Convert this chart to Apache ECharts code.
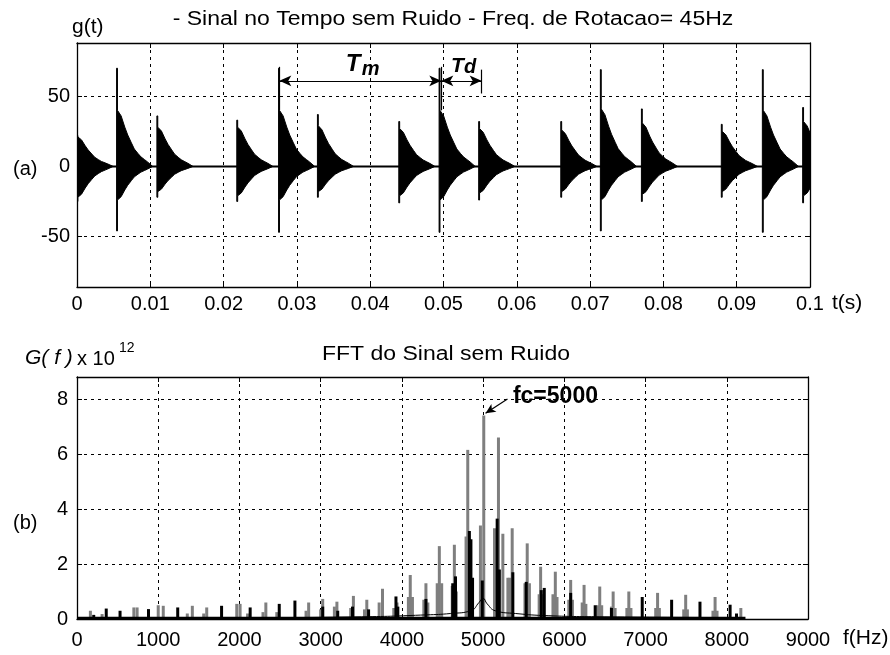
<!DOCTYPE html>
<html>
<head>
<meta charset="utf-8">
<script src="https://cdn.jsdelivr.net/npm/echarts@6/dist/echarts.min.js"></script>
<style>
html,body{margin:0;padding:0;background:#fff;}
#c{width:890px;height:655px;}
</style>
</head>
<body>
<div id="c"></div>
<script>
// ---------- DATA ----------
// Panel (a): time signal bursts
const timeTicks = [0, 0.01, 0.02, 0.03, 0.04, 0.05, 0.06, 0.07, 0.08, 0.09, 0.1];
const ampTicks = [-50, 0, 50];
const burstTime     = [0.0000, 0.0054, 0.0109, 0.0218, 0.0275, 0.0328, 0.0439, 0.0494, 0.0548, 0.0660, 0.0714, 0.0770, 0.0879, 0.0935, 0.0990];
const burstPeakUp   = [22, 70, 36, 33, 70, 37, 32, 70, 32, 32, 69, 41, 30, 69, 42];
const burstPeakDown = [-25, -46, -22, -25, -47, -22, -26, -47, -24, -22, -46, -25, -22, -47, -26];
const burstBodyUp   = [21, 40, 28, 28, 40, 29, 27, 40, 27, 26, 41, 31, 25, 40, 32];
const burstBodyDown = [-22, -24, -18, -21, -24, -18, -21, -24, -19, -18, -24, -20, -18, -24, -21];
// shared decay profile of one burst (offset in s, relative level)
const decayOffset = [0, 0.0005, 0.0010, 0.0014, 0.0019, 0.0023, 0.0028, 0.0032, 0.0037, 0.0041, 0.0048];
const decayLevel  = [1, 0.90, 0.70, 0.56, 0.42, 0.31, 0.23, 0.17, 0.12, 0.08, 0.0];

// Panel (b): spectrum
const freqTicks = [0, 1000, 2000, 3000, 4000, 5000, 6000, 7000, 8000, 9000];
const gTicks = [0, 2, 4, 6, 8];
const grayFreq = [165, 309, 700, 740, 880, 1000, 1062, 1358, 1420, 1560, 1597, 1967, 2008, 2100, 2290, 2325, 2460, 2820, 2852, 3000, 3025, 3169, 3200, 3370, 3403, 3540, 3568, 3720, 3761, 3900, 3940, 4080, 4103, 4130, 4270, 4296, 4320, 4435, 4461, 4490, 4620, 4646, 4670, 4790, 4811, 4835, 4967, 4985, 5008, 5140, 5189, 5243, 5305, 5330, 5358, 5515, 5543, 5570, 5690, 5708, 5730, 5860, 5889, 5910, 6055, 6078, 6100, 6220, 6243, 6265, 6410, 6436, 6460, 6580, 6601, 6625, 6770, 6794, 6820, 7125, 7148, 7170, 7470, 7494, 7515, 7830, 7856, 7880, 8173];
const grayAmp  = [0.30, 0.18, 0.42, 0.42, 0.30, 0.50, 0.48, 0.20, 0.48, 0.20, 0.42, 0.55, 0.55, 0.20, 0.25, 0.60, 0.25, 0.30, 0.60, 0.35, 0.73, 0.45, 0.63, 0.40, 0.84, 0.35, 0.70, 0.60, 1.10, 0.40, 0.60, 0.80, 1.60, 0.80, 0.70, 1.30, 0.60, 1.30, 2.65, 1.30, 1.20, 2.70, 1.00, 3.00, 6.15, 2.20, 3.40, 1.00, 7.40, 3.30, 6.60, 3.10, 1.50, 1.50, 3.30, 1.30, 2.75, 1.30, 0.90, 1.90, 0.90, 0.90, 1.72, 0.80, 0.70, 1.42, 0.70, 0.60, 1.24, 0.55, 0.50, 1.18, 0.50, 0.45, 1.00, 0.40, 0.40, 1.00, 0.40, 0.40, 0.95, 0.40, 0.35, 0.88, 0.35, 0.30, 0.80, 0.30, 0.40];
const blackFreq = [206, 360, 530, 880, 1240, 1780, 2132, 2490, 2683, 3025, 3210, 3392, 3590, 3927, 3950, 4296, 4626, 4660, 4831, 4850, 4870, 4990, 5173, 5200, 5366, 5531, 5716, 5753, 6078, 6380, 6580, 6959, 7321, 7670, 8041, 8120];
const blackAmp  = [0.15, 0.38, 0.30, 0.36, 0.42, 0.48, 0.42, 0.55, 0.67, 0.45, 0.30, 0.45, 0.35, 0.82, 0.45, 0.73, 1.30, 1.55, 3.20, 2.90, 1.50, 1.40, 3.65, 1.80, 1.70, 1.35, 1.05, 1.13, 0.95, 0.50, 0.40, 0.80, 0.70, 0.63, 0.52, 0.20];
const envFreq = [0, 2000, 3500, 4300, 4600, 4850, 4950, 5000, 5050, 5150, 5400, 5800, 6500, 8200];
const envAmp  = [0.05, 0.05, 0.08, 0.15, 0.20, 0.30, 0.60, 0.75, 0.55, 0.30, 0.20, 0.12, 0.08, 0.05];

// ---------- CHART ----------
const FONT = 'Liberation Sans, Arial, sans-serif';
const chart = echarts.init(document.getElementById('c'), null, {renderer: 'canvas'});

const burstData = burstTime.map((t, i) => [t, burstPeakUp[i], burstPeakDown[i], burstBodyUp[i], burstBodyDown[i]]);
const grayData = grayFreq.map((f, i) => [f, grayAmp[i]]);
const blackData = blackFreq.map((f, i) => [f, blackAmp[i]]);
const envData = envFreq.map((f, i) => [f, envAmp[i]]);

const SPIKE_W = 0.00012;
function renderBurst(params, api) {
  const t = api.value(0), pu = api.value(1), pd = api.value(2), bu = api.value(3), bd = api.value(4);
  const pts = [];
  pts.push(api.coord([t, 0]));
  pts.push(api.coord([t, pu]));
  pts.push(api.coord([t + SPIKE_W, pu]));
  for (let k = 0; k < decayOffset.length; k++) pts.push(api.coord([t + SPIKE_W + decayOffset[k], bu * decayLevel[k]]));
  for (let k = decayOffset.length - 1; k >= 0; k--) pts.push(api.coord([t + SPIKE_W + decayOffset[k], bd * decayLevel[k]]));
  pts.push(api.coord([t + SPIKE_W, pd]));
  pts.push(api.coord([t, pd]));
  return {
    type: 'polygon',
    shape: {points: pts},
    style: {fill: '#000', stroke: '#000', lineWidth: 1}
  };
}

const gridLine = {show: true, lineStyle: {color: '#000', type: [3, 4], width: 1}};
const axisLineStyle = {show: true, onZero: false, lineStyle: {color: '#000', width: 1.3}};
const tickIn = {show: true, inside: true, length: 5, lineStyle: {color: '#000', width: 1}};
const lblStyle = {color: '#000', fontSize: 20, fontFamily: FONT};

const option = {
  animation: false,
  backgroundColor: '#fff',
  grid: [
    {left: 77, top: 43, width: 733, height: 244},
    {left: 77, top: 377, width: 731, height: 242}
  ],
  xAxis: [
    {gridIndex: 0, type: 'value', min: timeTicks[0], max: timeTicks[timeTicks.length - 1], interval: 0.01,
     axisLine: axisLineStyle, axisTick: tickIn, splitLine: gridLine,
     axisLabel: Object.assign({margin: 7, formatter: v => String(+v.toFixed(2))}, lblStyle)},
    {gridIndex: 0, type: 'value', position: 'top', min: timeTicks[0], max: timeTicks[timeTicks.length - 1], interval: 0.01,
     axisLine: axisLineStyle, axisTick: tickIn, splitLine: {show: false}, axisLabel: {show: false}},
    {gridIndex: 1, type: 'value', min: freqTicks[0], max: freqTicks[freqTicks.length - 1], interval: 1000,
     axisLine: axisLineStyle, axisTick: tickIn, splitLine: gridLine,
     axisLabel: Object.assign({margin: 11, formatter: v => String(v)}, lblStyle)},
    {gridIndex: 1, type: 'value', position: 'top', min: freqTicks[0], max: freqTicks[freqTicks.length - 1], interval: 1000,
     axisLine: axisLineStyle, axisTick: tickIn, splitLine: {show: false}, axisLabel: {show: false}}
  ],
  yAxis: [
    {gridIndex: 0, type: 'value', min: -86, max: 88,
     axisLine: axisLineStyle, axisTick: Object.assign({customValues: ampTicks}, tickIn), splitLine: gridLine,
     axisLabel: Object.assign({margin: 7, customValues: ampTicks}, lblStyle)},
    {gridIndex: 0, type: 'value', position: 'right', min: -86, max: 88,
     axisLine: axisLineStyle, axisTick: Object.assign({customValues: ampTicks}, tickIn), splitLine: {show: false}, axisLabel: {show: false}},
    {gridIndex: 1, type: 'value', min: gTicks[0], max: 8.8, interval: 2,
     axisLine: axisLineStyle, axisTick: tickIn, splitLine: gridLine,
     axisLabel: Object.assign({margin: 9, showMaxLabel: false}, lblStyle)},
    {gridIndex: 1, type: 'value', position: 'right', min: gTicks[0], max: 8.8, interval: 2,
     axisLine: axisLineStyle, axisTick: tickIn, splitLine: {show: false}, axisLabel: {show: false}}
  ],
  series: [
    {type: 'line', xAxisIndex: 0, yAxisIndex: 0, data: [[0, 0], [0.1, 0]], symbol: 'none',
     lineStyle: {color: '#000', width: 2}, z: 3,
     markLine: {silent: true, animation: false, symbol: ['arrow', 'arrow'], symbolSize: [8, 12],
       label: {show: false}, lineStyle: {color: '#000', type: 'solid', width: 1.2},
       data: [
         [{coord: [0.0276, 61]}, {coord: [0.0497, 61]}],
         [{coord: [0.0497, 61]}, {coord: [0.0552, 61]}],
         [{coord: [0.0552, 69], symbol: 'none'}, {coord: [0.0552, 52], symbol: 'none'}],
         [{coord: [0.0276, 71], symbol: 'none'}, {coord: [0.0276, 40], symbol: 'none'}],
         [{coord: [0.0497, 71], symbol: 'none'}, {coord: [0.0497, 40], symbol: 'none'}]
       ]}},
    {type: 'custom', xAxisIndex: 0, yAxisIndex: 0, data: burstData, renderItem: renderBurst, clip: true, z: 4},
    {type: 'bar', xAxisIndex: 2, yAxisIndex: 2, data: grayData, barWidth: 3, barGap: '-100%',
     itemStyle: {color: '#7f7f7f'}, z: 3},
    {type: 'bar', xAxisIndex: 2, yAxisIndex: 2, data: blackData, barWidth: 3, barGap: '-100%',
     itemStyle: {color: '#000'}, z: 4},
    {type: 'line', xAxisIndex: 2, yAxisIndex: 2, data: envData, symbol: 'none', smooth: true,
     lineStyle: {color: '#000', width: 1}, z: 5},
    {type: 'line', xAxisIndex: 2, yAxisIndex: 2, data: [[0, 0.04], [8230, 0.04]], symbol: 'none',
     lineStyle: {color: '#000', width: 2.5}, z: 5,
     markLine: {silent: true, animation: false, symbol: ['none', 'arrow'], symbolSize: [7, 10],
       label: {show: false}, lineStyle: {color: '#000', type: 'solid', width: 1.2},
       data: [[{coord: [5300, 8.0]}, {coord: [5030, 7.48]}]]}}
  ]
};
chart.setOption(option);

// ---------- texts ----------
function px(gi, v) { return chart.convertToPixel({gridIndex: gi}, v); }
const pTm = px(0, [0.0368, 61]);
const pTd = px(0, [0.0524, 61]);
const pFc = px(1, [5330, 8.0]);
const txt = (text, x, y, extra, sx) => ({type: 'text', x: x, y: y, scaleX: sx || 1, silent: true,
  style: Object.assign({text: text, fill: '#000', font: '20px ' + FONT}, extra || {})});

chart.setOption({
  graphic: [
    txt('- Sinal no Tempo sem Ruido - Freq. de Rotacao= 45Hz', 453, 19, {align: 'center', verticalAlign: 'middle'}, 1.15),
    txt('g(t)', 72, 27, {verticalAlign: 'middle', font: '21px ' + FONT}),
    txt('(a)', 13, 169, {verticalAlign: 'middle'}),
    txt('t(s)', 832, 303, {verticalAlign: 'middle', font: '21px ' + FONT}),
    txt('FFT do Sinal sem Ruido', 446, 354, {align: 'center', verticalAlign: 'middle'}, 1.15),
    txt('G( f )', 25, 358, {verticalAlign: 'middle', font: 'italic 21px ' + FONT}),
    txt('x 10', 77, 359, {verticalAlign: 'middle', font: '20px ' + FONT}),
    txt('12', 119, 348, {verticalAlign: 'middle', font: '14px ' + FONT}),
    txt('(b)', 13, 523, {verticalAlign: 'middle'}),
    txt('f(Hz)', 843, 638, {verticalAlign: 'middle', font: '21px ' + FONT}),
    txt('T', pTm[0] - 1, pTm[1] - 16, {verticalAlign: 'middle', font: 'italic bold 24px ' + FONT}),
    txt('m', pTm[0] + 15, pTm[1] - 11, {verticalAlign: 'middle', font: 'italic bold 20px ' + FONT}),
    txt('T', pTd[0] - 10, pTd[1] - 15, {verticalAlign: 'middle', font: 'italic bold 21px ' + FONT}),
    txt('d', pTd[0] + 3, pTd[1] - 13, {verticalAlign: 'middle', font: 'italic bold 20px ' + FONT}),
    txt('fc=5000', pFc[0] + 3, pFc[1] - 2, {verticalAlign: 'middle', font: 'bold 23px ' + FONT})
  ]
});
</script>
</body>
</html>
